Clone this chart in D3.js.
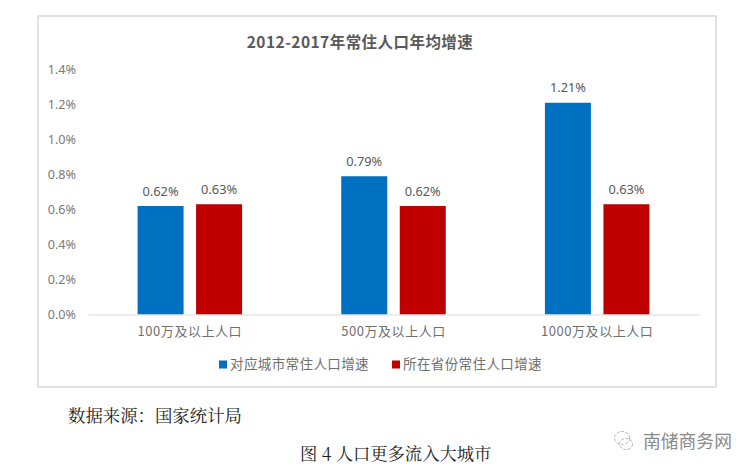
<!DOCTYPE html>
<html><head><meta charset="utf-8">
<script src="https://cdn.jsdelivr.net/npm/d3@7/dist/d3.min.js"></script>
<style>html,body{margin:0;padding:0;background:#fff}svg{display:block}
text{font-family:"Noto Sans CJK SC","Noto Sans",sans-serif}</style></head>
<body><svg id="c" width="756" height="474"></svg>
<script>
const title = "2012-2017年常住人口年均增速";
const categories = ["100万及以上人口","500万及以上人口","1000万及以上人口"];
const seriesNames = ["对应城市常住人口增速","所在省份常住人口增速"];
const cityGrowth = [0.62,0.79,1.21];
const provinceGrowth = [0.63,0.62,0.63];
const yTicks = [0,0.2,0.4,0.6,0.8,1.0,1.2,1.4];
const colors = ["#0070c0","#c00000"];
const sourceText = "数据来源\uFF1A国家统计局";
const captionText = "图 4 人口更多流入大城市";
const watermark = "南储商务网";

const svg = d3.select("#c");
svg.append("rect").attr("x",38).attr("y",16).attr("width",678).attr("height",371)
  .attr("fill","#fff").attr("stroke","#d9d9d9").attr("stroke-width",1.5);

svg.append("text").attr("x",360).attr("y",47.5).attr("text-anchor","middle")
  .attr("font-size",15.5).attr("font-weight",700).attr("letter-spacing",0.45).attr("fill","#595959").text(title);

const x = d3.scaleBand().domain(categories).range([88,699]).padding(0);
const xIn = d3.scaleBand().domain([0,1]).range([0,104.5]).paddingInner(0.214);
const y = d3.scaleLinear().domain([0,1.4]).range([314.5,69.5]);
const groupOffset = x.bandwidth()/2-52.25;

const yAxis = d3.axisLeft(y).tickValues(yTicks).tickFormat(d=>d.toFixed(1)+"%").tickSize(0).tickPadding(0);
const gy = svg.append("g").attr("transform","translate(76,0)").call(yAxis);
gy.select(".domain").remove();
gy.selectAll("text").attr("font-size",12.6).attr("fill","#7a7a7a").style("font-family",'"Noto Sans",sans-serif');

const xAxis = d3.axisBottom(x).tickSize(0).tickPadding(12);
const gx = svg.append("g").attr("transform","translate(0,314.5)").call(xAxis);
gx.select(".domain").attr("stroke","#d9d9d9").attr("stroke-width",1.2);
gx.selectAll("text").attr("font-size",13).attr("letter-spacing",0.55).attr("fill","#6f6f6f");

[cityGrowth,provinceGrowth].forEach((vals,s)=>{
  const g = svg.append("g");
  g.selectAll("rect").data(vals).join("rect")
    .attr("x",(d,i)=>x(categories[i])+groupOffset+xIn(s))
    .attr("width",xIn.bandwidth())
    .attr("y",d=>y(d)).attr("height",d=>y(0)-y(d))
    .attr("fill",colors[s]);
  g.selectAll("text").data(vals).join("text")
    .attr("x",(d,i)=>x(categories[i])+groupOffset+xIn(s)+xIn.bandwidth()/2)
    .attr("y",d=>y(d)-10.5).attr("text-anchor","middle")
    .attr("font-size",12.8).attr("fill","#595959").style("font-family",'"Noto Sans",sans-serif')
    .text(d=>d.toFixed(2)+"%");
});
gx.raise();

const legendX = d3.scaleOrdinal().domain(seriesNames).range([219,392]);
const lg = svg.append("g").selectAll("g").data(seriesNames).join("g")
  .attr("transform",d=>`translate(${legendX(d)},0)`);
lg.append("rect").attr("y",360.5).attr("width",8).attr("height",8).attr("fill",(d,i)=>colors[i]);
lg.append("text").attr("x",11).attr("y",369).attr("font-size",13.5).attr("fill","#6f6f6f").attr("letter-spacing",0.4).text(d=>d);

svg.append("text").attr("x",68).attr("y",421.5).attr("font-size",17.4).attr("fill","#222")
  .style("font-family",'"Noto Serif CJK SC","Noto Sans CJK SC"').text(sourceText);
svg.append("text").attr("x",300).attr("y",460).attr("font-size",17.3).attr("fill","#222")
  .style("font-family",'"Noto Serif CJK SC","Noto Sans CJK SC"').text(captionText);

const wm = svg.append("g").attr("fill","none").attr("stroke","#aaa").attr("stroke-width",0.9);
wm.append("ellipse").attr("cx",622).attr("cy",438).attr("rx",7.5).attr("ry",6.5).attr("stroke-dasharray","3 1.5");
wm.append("ellipse").attr("cx",626).attr("cy",444).attr("rx",6.5).attr("ry",5.5).attr("stroke-dasharray","3 1.5");
svg.append("text").attr("x",643).attr("y",448).attr("font-size",17.8).attr("fill","#8a8a8a").text(watermark);
</script></body></html>
